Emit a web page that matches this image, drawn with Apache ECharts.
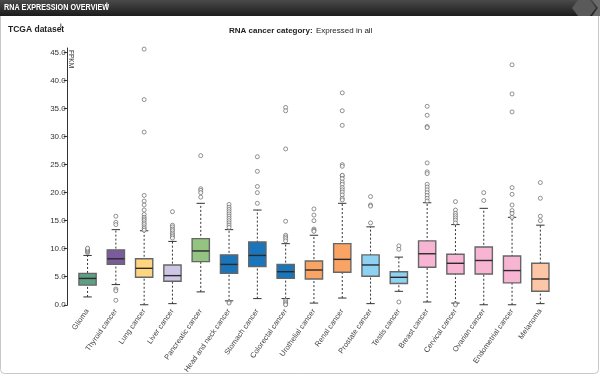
<!DOCTYPE html>
<html><head><meta charset="utf-8">
<script src="https://cdn.jsdelivr.net/npm/echarts@6/dist/echarts.min.js"></script>
<style>html,body{margin:0;padding:0;background:#fff}#c{width:600px;height:376px}</style>
</head><body><div id="c"></div>
<script>
const categories = ["Glioma","Thyroid cancer","Lung cancer","Liver cancer","Pancreatic cancer","Head and neck cancer","Stomach cancer","Colorectal cancer","Urothelial cancer","Renal cancer","Prostate cancer","Testis cancer","Breast cancer","Cervical cancer","Ovarian cancer","Endometrial cancer","Melanoma"];
const whiskerLow  = [1.4, 3.6, 0.0, 0.2, 2.3, 0.7, 1.1, 1.1, 0.3, 1.2, 0.2, 2.4, 0.5, 0.3, 0.0, 0.0, 0.2];
const q1          = [3.5, 7.2, 4.9, 4.2, 7.7, 5.6, 6.8, 4.7, 4.6, 5.8, 5.1, 3.8, 6.7, 5.5, 5.5, 3.9, 2.4];
const median      = [4.7, 8.2, 6.5, 5.2, 9.6, 7.2, 8.8, 5.9, 6.2, 8.1, 7.1, 4.9, 9.1, 7.4, 7.9, 6.1, 4.6];
const q3          = [5.6, 9.8, 8.2, 7.1, 11.8, 8.9, 11.2, 7.2, 7.8, 10.9, 8.9, 5.9, 11.4, 9.0, 10.3, 8.7, 7.4];
const whiskerHigh = [8.8, 13.4, 13.2, 11.3, 18.1, 13.4, 16.9, 10.9, 12.4, 18.1, 13.9, 8.5, 18.2, 14.3, 17.2, 15.6, 14.2];
const outliers = [
  [9.3, 9.5, 9.7, 9.9, 10.1],
  [15.8, 14.7, 14.3, 2.8, 2.5, 0.8],
  [45.6, 36.6, 30.8, 19.5, 18.5, 17.8, 16.9, 16.1, 15.6, 15.3, 15.0, 14.6, 14.3, 13.9, 13.6, 13.3],
  [16.6, 14.2, 13.9, 13.5, 13.2, 12.8, 12.5, 12.2, 11.9],
  [26.6, 20.7, 20.4, 20.0, 19.2],
  [17.9, 17.4, 17.0, 16.6, 16.2, 15.8, 15.4, 15.0, 14.6, 14.2, 13.8, 0.5, 0.3],
  [26.4, 23.8, 21.1, 20.0, 18.1],
  [35.2, 34.6, 27.8, 14.9, 12.4, 12.1, 11.8, 11.4, 0.8, 0.5, 0.2, 0.0],
  [17.1, 16.0, 15.0, 13.5, 13.3, 13.1],
  [37.8, 34.6, 32.0, 25.0, 24.7, 23.0, 23.1, 22.5, 21.9, 21.5, 20.9, 20.5, 20.1, 19.6, 19.0, 18.7],
  [19.3, 17.8, 17.6, 14.6],
  [10.5, 9.9, 0.5],
  [35.4, 33.8, 31.8, 31.6, 25.3, 23.7, 23.4, 21.5, 21.0, 20.5, 20.0, 19.5, 19.0, 18.5],
  [18.4, 16.9, 16.3, 15.9, 15.5, 15.1, 14.6, 0.2, 0.0],
  [20.0, 18.6],
  [42.8, 37.6, 34.4, 20.9, 19.7, 17.8, 16.8, 16.3, 15.6],
  [21.8, 19.0, 15.8, 15.0]
];
const yTicks = [0, 5, 10, 15, 20, 25, 30, 35, 40, 45];
const boxColors = ["#5f9e84","#7a5c9c","#ffd680","#cfc6e6","#93c481","#1b75bb","#1b75bb","#1b75bb","#f9a365","#f9a365","#8fd1f3","#8fd1f3","#f7b5d3","#f7b5d3","#f7b5d3","#f7b5d3","#fdc6a6"];

const boxData = categories.map((c, i) => [i, whiskerLow[i], q1[i], median[i], q3[i], whiskerHigh[i]]);
const outData = [];
outliers.forEach((arr, i) => arr.forEach(v => outData.push([i, v])));

const chart = echarts.init(document.getElementById('c'), null, {renderer: 'canvas'});
const lblFont = "'Liberation Sans', Arial, sans-serif";
chart.setOption({
  animation: false,
  backgroundColor: '#fff',
  grid: {left: 73.4, right: 45.5, top: 48, bottom: 68.3, containLabel: false},
  xAxis: {
    type: 'category', data: categories,
    axisLine: {show: false}, axisTick: {show: false}, splitLine: {show: false},
    axisLabel: {rotate: 55, fontSize: 7.5, color: '#444', margin: 5, fontFamily: lblFont, interval: 0}
  },
  yAxis: {
    type: 'value', min: 0, max: 45.8, offset: 5.7,
    axisLine: {show: true, lineStyle: {color: '#333', width: 1}},
    axisTick: {show: true, length: 4, customValues: yTicks, lineStyle: {color: '#333'}},
    axisLabel: {customValues: yTicks, formatter: v => v.toFixed(1), fontSize: 8, color: '#333', margin: 2, fontFamily: lblFont},
    splitLine: {show: false}
  },
  graphic: [
    {type: 'rect', shape: {x: 0.5, y: 10, width: 598, height: 363.5, r: 4}, style: {fill: '#fff', stroke: '#c8c8c8', lineWidth: 1}, z: -10},
    {type: 'rect', shape: {x: 0, y: 0, width: 600, height: 16}, style: {fill: new echarts.graphic.LinearGradient(0, 0, 0, 1, [{offset: 0, color: '#4a4a4a'}, {offset: 1, color: '#1c1c1c'}])}, z: -5},
    {type: 'polygon', shape: {points: [[578, 0], [590, 0], [596, 8], [590, 16], [578, 16], [572, 8]]}, style: {fill: '#5a5a5a'}, z: -4},
    {type: 'polygon', shape: {points: [[592, 0], [600, 0], [600, 16], [592, 16], [598, 8]]}, style: {fill: '#6a6a6a'}, z: -4},
    {type: 'text', x: 4, y: 3.5, scaleX: 0.8, style: {text: 'RNA EXPRESSION OVERVIEW', font: "bold 9px 'Liberation Sans', Arial, sans-serif", fill: '#fff'}},
    {type: 'text', x: 106, y: 1.5, style: {text: 'i', font: "bold 6px 'Liberation Sans', sans-serif", fill: '#fff'}},
    {type: 'text', x: 8, y: 25, style: {text: 'TCGA dataset', font: "bold 8.5px 'Liberation Sans', Arial, sans-serif", fill: '#222'}},
    {type: 'text', x: 60, y: 22, style: {text: 'i', font: "bold 6px 'Liberation Sans', sans-serif", fill: '#222'}},
    {type: 'text', x: 229, y: 25, style: {
      text: '{b|RNA cancer category:} {n|Expressed in all}',
      rich: {
        b: {font: "bold 8px 'Liberation Sans', Arial, sans-serif", fill: '#222'},
        n: {font: "8px 'Liberation Sans', Arial, sans-serif", fill: '#222'}
      }
    }},
    {type: 'text', x: 74, y: 50, rotation: -Math.PI / 2, style: {text: 'FPKM', font: "6.5px 'Liberation Sans', Arial, sans-serif", fill: '#333'}}
  ],
  series: [
    {
      type: 'custom', data: boxData, encode: {x: 0, y: [1, 2, 3, 4, 5]}, z: 2,
      renderItem: (params, api) => {
        const x = api.value(0);
        const lo = api.coord([x, api.value(1)]);
        const b1 = api.coord([x, api.value(2)]);
        const md = api.coord([x, api.value(3)]);
        const b3 = api.coord([x, api.value(4)]);
        const hi = api.coord([x, api.value(5)]);
        const bw = api.size([1, 0])[0] * 0.61;
        const h = bw / 2, cap = 4.2;
        const cx = lo[0];
        const col = boxColors[params.dataIndex];
        return {type: 'group', children: [
          {type: 'line', shape: {x1: cx, y1: lo[1], x2: cx, y2: hi[1]}, style: {stroke: '#333', lineWidth: 1, lineDash: [2, 2]}},
          {type: 'line', shape: {x1: cx - cap, y1: lo[1], x2: cx + cap, y2: lo[1]}, style: {stroke: '#333', lineWidth: 1}},
          {type: 'line', shape: {x1: cx - cap, y1: hi[1], x2: cx + cap, y2: hi[1]}, style: {stroke: '#333', lineWidth: 1}},
          {type: 'rect', shape: {x: cx - h, y: b3[1], width: bw, height: b1[1] - b3[1]}, style: {fill: col, stroke: '#666', lineWidth: 1.4}},
          {type: 'line', shape: {x1: cx - h, y1: md[1], x2: cx + h, y2: md[1]}, style: {stroke: '#2a2a2a', lineWidth: 1.4}}
        ]};
      }
    },
    {
      type: 'scatter', data: outData, symbol: 'circle', symbolSize: 4, clip: false, z: 3,
      itemStyle: {color: '#fff', borderColor: '#555', borderWidth: 0.8}
    }
  ]
});
</script></body></html>
